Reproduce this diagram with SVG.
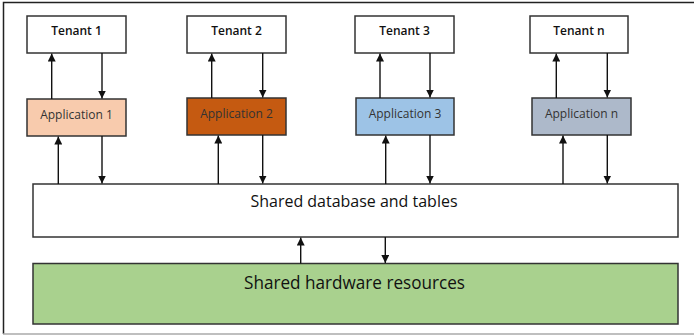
<svg xmlns="http://www.w3.org/2000/svg" width="694" height="336" viewBox="0 0 694 336">
<defs>
<marker id="ah" viewBox="0 0 10 10" refX="10" refY="5" markerWidth="8" markerHeight="8" markerUnits="userSpaceOnUse" orient="auto">
<path d="M0,0 L10,5 L0,10 Z" fill="#111"/>
</marker>
<style>
.box{stroke:#333;stroke-width:1.5}
.t{font-family:"Open Sans","Liberation Sans",sans-serif;text-anchor:middle;fill:#111}
.ten{font-size:12px;font-weight:600}
.app{font-size:12px;fill:#333}
.conn line{stroke:#111;stroke-width:1.4;marker-end:url(#ah)}
</style>
</defs>
<rect width="694" height="336" fill="#fff"/>
<path d="M3.5,334 V2.5 H694" fill="none" stroke="#222" stroke-width="1.5"/>
<line x1="3" y1="334" x2="694" y2="334" stroke="#aaa" stroke-width="1.5"/>

<g id="tenant1"><rect class="box" x="27" y="16" width="99" height="37" fill="#fff"/><text class="t ten" x="76.5" y="35">Tenant 1</text></g>
<g id="tenant2"><rect class="box" x="187" y="16" width="99" height="37" fill="#fff"/><text class="t ten" x="236.5" y="35">Tenant 2</text></g>
<g id="tenant3"><rect class="box" x="355" y="16" width="99" height="37" fill="#fff"/><text class="t ten" x="404.5" y="35">Tenant 3</text></g>
<g id="tenantn"><rect class="box" x="530" y="16" width="98" height="37" fill="#fff"/><text class="t ten" x="579" y="35">Tenant n</text></g>

<g id="app1"><rect class="box" x="27" y="99" width="99" height="37" fill="#F8CBAD"/><text class="t app" x="76.5" y="118.5">Application 1</text></g>
<g id="app2"><rect class="box" x="187" y="98" width="99" height="37" fill="#C55A11"/><text class="t app" x="236.5" y="117.5">Application 2</text></g>
<g id="app3"><rect class="box" x="356" y="98" width="98" height="37" fill="#9DC3E6"/><text class="t app" x="405" y="117.5">Application 3</text></g>
<g id="appn"><rect class="box" x="532" y="98" width="99" height="37" fill="#ADB9CA"/><text class="t app" x="581.5" y="117.5">Application n</text></g>

<g id="db"><rect class="box" x="33" y="184" width="645" height="53" fill="#fff"/><text class="t" x="354" y="206.5" font-size="16" textLength="207" lengthAdjust="spacingAndGlyphs">Shared database and tables</text></g>
<g id="hw"><rect class="box" x="33" y="263.5" width="645" height="60.5" fill="#A9D18E"/><text class="t" x="354.5" y="288.5" font-size="18" fill="#333" textLength="221" lengthAdjust="spacingAndGlyphs">Shared hardware resources</text></g>

<g class="conn" id="connectors">
<line x1="51.7" y1="99" x2="51.7" y2="53.5"/>
<line x1="102" y1="53" x2="102" y2="98.5"/>
<line x1="211.7" y1="98" x2="211.7" y2="53.5"/>
<line x1="262.7" y1="53" x2="262.7" y2="97.5"/>
<line x1="380" y1="98" x2="380" y2="53.5"/>
<line x1="430" y1="53" x2="430" y2="97.5"/>
<line x1="556.3" y1="98" x2="556.3" y2="53.5"/>
<line x1="607.3" y1="53" x2="607.3" y2="97.5"/>

<line x1="58.3" y1="184" x2="58.3" y2="136.5"/>
<line x1="102" y1="136" x2="102" y2="183.5"/>
<line x1="218.3" y1="184" x2="218.3" y2="135.5"/>
<line x1="262.7" y1="135" x2="262.7" y2="183.5"/>
<line x1="385.7" y1="184" x2="385.7" y2="135.5"/>
<line x1="430" y1="135" x2="430" y2="183.5"/>
<line x1="563" y1="184" x2="563" y2="135.5"/>
<line x1="607.3" y1="135" x2="607.3" y2="183.5"/>

<line x1="300.7" y1="263.5" x2="300.7" y2="237.5"/>
<line x1="385.3" y1="237" x2="385.3" y2="263"/>
</g>
</svg>
